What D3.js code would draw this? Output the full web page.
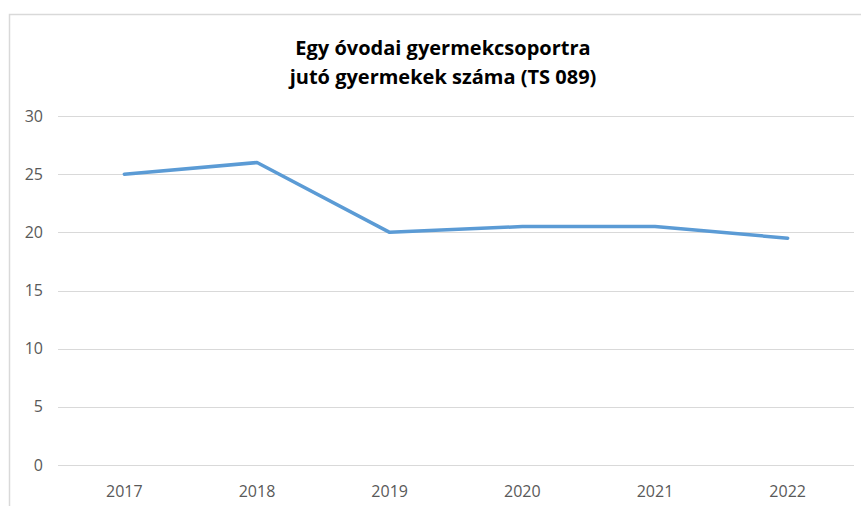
<!DOCTYPE html>
<html>
<head>
<meta charset="utf-8">
<script src="https://cdn.jsdelivr.net/npm/d3@7"></script>
<style>
  body { margin: 0; background: #fff; }
  svg { display: block; }
</style>
</head>
<body>
<div id="chart"></div>
<script>
// chart data
const years = ["2017", "2018", "2019", "2020", "2021", "2022"];
const values = [25, 26, 20, 20.5, 20.5, 19.5];
const yTicks = [0, 5, 10, 15, 20, 25, 30];
const titleLines = ["Egy óvodai gyermekcsoportra", "jutó gyermekek száma (TS 089)"];

const width = 861, height = 506;
const plot = { left: 58, right: 854, top: 116, bottom: 465 };

const svg = d3.select("#chart").append("svg")
  .attr("width", width)
  .attr("height", height);

// outer frame of the chart area
svg.append("rect")
  .attr("x", 9.5).attr("y", 14.5)
  .attr("width", 880).attr("height", 520)
  .attr("fill", "none")
  .attr("stroke", "#d9d9d9")
  .attr("stroke-width", 1.5);

const x = d3.scaleBand().domain(years).range([plot.left, plot.right]);
const y = d3.scaleLinear().domain([0, 30]).range([plot.bottom, plot.top]);

// gridlines
svg.append("g")
  .selectAll("line")
  .data(yTicks)
  .enter()
  .append("line")
  .attr("x1", plot.left).attr("x2", plot.right)
  .attr("y1", d => Math.round(y(d)) + 0.5)
  .attr("y2", d => Math.round(y(d)) + 0.5)
  .attr("stroke", "#d9d9d9")
  .attr("stroke-width", 1);

// y labels
svg.append("g")
  .selectAll("text")
  .data(yTicks)
  .enter()
  .append("text")
  .attr("x", 43)
  .attr("y", d => y(d) + 5.5)
  .attr("text-anchor", "end")
  .attr("font-family", "'Open Sans', sans-serif")
  .attr("font-size", 16)
  .attr("fill", "#595959")
  .text(d => d);

// x labels
svg.append("g")
  .selectAll("text")
  .data(years)
  .enter()
  .append("text")
  .attr("x", d => x(d) + x.bandwidth() / 2)
  .attr("y", 497)
  .attr("text-anchor", "middle")
  .attr("font-family", "'Open Sans', sans-serif")
  .attr("font-size", 16)
  .attr("fill", "#595959")
  .text(d => d);

// the line
const line = d3.line()
  .x((d, i) => x(years[i]) + x.bandwidth() / 2)
  .y(d => y(d));

svg.append("path")
  .datum(values)
  .attr("d", line)
  .attr("fill", "none")
  .attr("stroke", "#5b9bd5")
  .attr("stroke-width", 3.5)
  .attr("stroke-linejoin", "round")
  .attr("stroke-linecap", "round");

// title
svg.append("g")
  .selectAll("text")
  .data(titleLines)
  .enter()
  .append("text")
  .attr("x", 443)
  .attr("y", (d, i) => 55 + i * 29)
  .attr("text-anchor", "middle")
  .attr("font-family", "'Open Sans', sans-serif")
  .attr("font-weight", "bold")
  .attr("font-size", 20)
  .attr("fill", "#000")
  .text(d => d);
</script>
</body>
</html>
